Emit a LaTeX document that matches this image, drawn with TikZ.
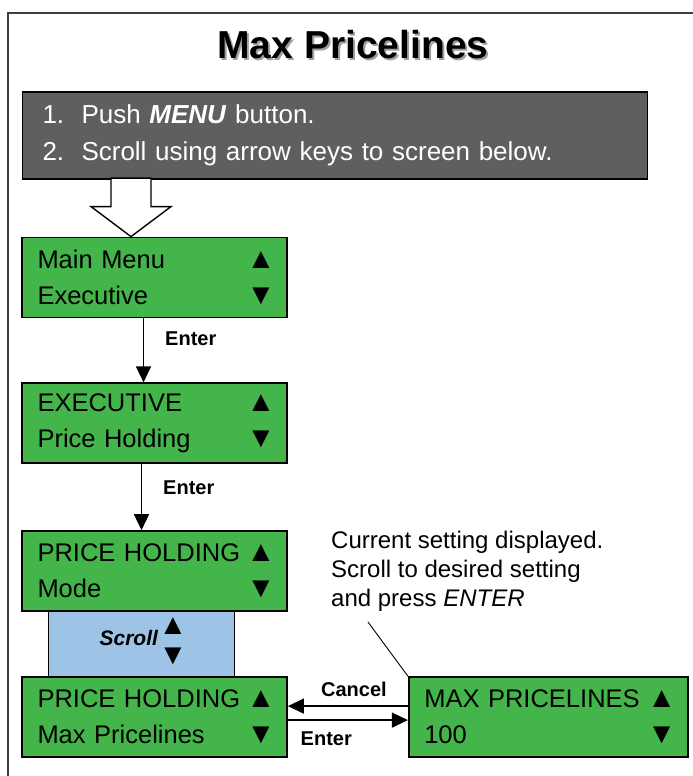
\documentclass[tikz,border=0pt]{standalone}
\usepackage{fontspec}
\setmainfont{Liberation Sans}
\usetikzlibrary{positioning,arrows.meta}
\newcommand{\triup}{\makebox[21pt][c]{\fontsize{29}{29}\selectfont ▲}}
\newcommand{\tridown}{\makebox[21pt][c]{\fontsize{29}{29}\selectfont ▼}}

\begin{document}
\begin{tikzpicture}[
  x=1pt, y=-1pt,
  font=\fontsize{25.5}{36}\selectfont,
  frame/.style={draw=black!75, line width=2pt},
  ttl/.style={font=\fontsize{39}{44}\selectfont\bfseries, inner sep=0pt},
  info/.style={draw=black, line width=1.6pt, fill=infoGray, text=white, minimum width=625pt, minimum height=87pt,
               text width=585pt, inner xsep=20pt, inner ysep=0pt, align=left, font=\fontsize{26}{37}\selectfont},
  screen/.style={draw=black, line width=1.8pt, fill=scrGreen, minimum width=265pt, minimum height=80pt,
                 text width=234pt, inner xsep=15.5pt, inner ysep=0pt, align=left},
  scrollbox/.style={draw=black, line width=1.4pt, fill=scrBlue, minimum width=186pt, minimum height=66pt,
                    inner sep=0pt},
  hollow/.style={draw=black, line width=1.4pt, fill=white},
  flow/.style={line width=1.4pt, -{Triangle[length=16pt,width=15pt]}},
  key/.style={font=\fontsize{20}{24}\selectfont\bfseries, inner sep=3pt},
  note/.style={font=\fontsize{24}{29}\selectfont, align=left, inner sep=0pt},
  leader/.style={line width=0.9pt},
]
\definecolor{scrGreen}{HTML}{44B54A}
\definecolor{scrBlue}{HTML}{9DC3E6}
\definecolor{infoGray}{HTML}{5F5F5F}
\definecolor{ttlShade}{HTML}{A0A0A0}

\useasboundingbox (0,0) rectangle (693,776);
\draw[frame] (8,776) -- (8,13) -- (693,13);

% title with its shadow
\node[ttl, text=ttlShade] (ttlsh) at (355,47) {Max Pricelines};
\node[ttl] (ttl) at (353,45) {Max Pricelines};

\node[info] (info) at (335,135.5)
  {\makebox[39pt][l]{1.}Push \textbf{\textit{MENU}} button.\\
   \makebox[39pt][l]{2.}Scroll using arrow keys to screen below.};

% screens
\node[screen] (s1) at (154.5,277.5) {Main Menu\nobreak\hfill\triup\\Executive\nobreak\hfill\tridown};
\node[screen, below=64pt of s1] (s2) {EXECUTIVE\nobreak\hfill\triup\\Price Holding\nobreak\hfill\tridown};
\node[screen, below=66pt of s2] (s3) {PRICE HOLDING\nobreak\hfill\triup\\Mode\nobreak\hfill\tridown};
\node[scrollbox, below=-1.6pt of s3, xshift=-13pt] (sc)
  {\fontsize{21}{25}\selectfont\textbf{\textit{Scroll}}\hspace{4pt}\raisebox{-4pt}{\begin{tabular}{@{}c@{}}\triup\\[5pt]\tridown\end{tabular}}\hspace{12pt}};
\node[screen, below=-1.6pt of sc, xshift=13pt] (s4) {PRICE HOLDING\nobreak\hfill\triup\\Max Pricelines\nobreak\hfill\tridown};
\node[screen, right=120pt of s4, minimum width=279pt, text width=248pt] (s5) {MAX PRICELINES\nobreak\hfill\triup\\100\nobreak\hfill\tridown};

\draw[hollow] ([xshift=-23.5pt]s1.north) -- ++(-40,-30) -- ++(20,0) -- ++(0,-28.5)
  -- ++(40,0) -- ++(0,28.5) -- ++(20,0) -- cycle;

\draw[flow] ([xshift=-11pt]s1.south) -- node[key, pos=0.32, right=18pt] {Enter} ([xshift=-11pt]s1.south |- s2.north);
\draw[flow] ([xshift=-13pt]s2.south) -- node[key, pos=0.35, right=18pt] {Enter} ([xshift=-13pt]s2.south |- s3.north);
\draw[flow] ([yshift=11pt]s5.west) -- node[key, pos=0.45, above=6pt] {Cancel} ([yshift=11pt]s5.west -| s4.east);
\draw[flow] ([yshift=-3pt]s4.east) -- node[key, pos=0.32, below=8pt] {Enter} ([yshift=-3pt]s4.east -| s5.west);

% hint for the last screen
\node[note, anchor=north west] (note) at (331,530.5)
  {Current setting displayed.\\Scroll to desired setting\\and press \textit{ENTER}};
\coordinate (lead) at (368,622);
\draw[leader] (s5.north west) -- (lead);
\end{tikzpicture}
\end{document}
